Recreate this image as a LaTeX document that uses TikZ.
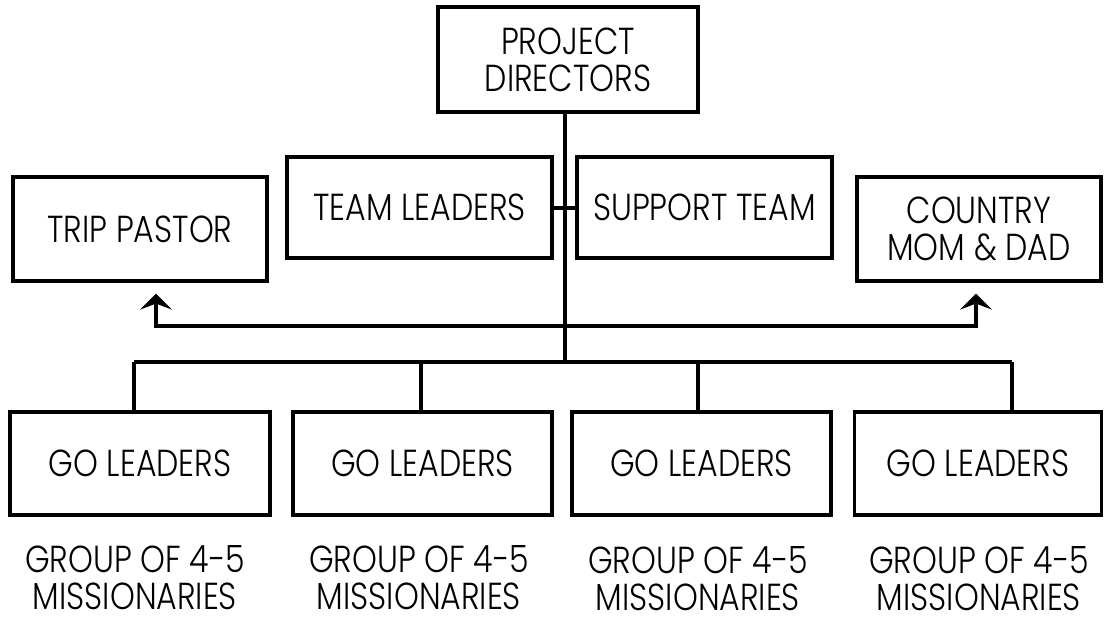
\documentclass[tikz,border=0pt]{standalone}
\usepackage{fontspec}
\setmainfont{Poppins}[FakeStretch=0.84, UprightFont=* Light]
\usetikzlibrary{positioning,arrows.meta}

\tikzset{
  box/.style={draw, line width=1.6pt, align=center, inner sep=0pt},
  note/.style={align=center, inner sep=0.5pt},
  link/.style={line width=2pt},
  up/.style={link, -{Stealth[length=8pt, width=16pt, inset=3pt]}, shorten >=5.5pt}
}

\begin{document}
\begin{tikzpicture}[x=0.5pt, y=-0.5pt, font=\fontsize{18.8}{18.5}\selectfont]

\useasboundingbox (0,0) rectangle (1104,622);

% top of the chart
\node[box, minimum width=130pt, minimum height=52.5pt] (directors) at (568,59.5) {PROJECT\\DIRECTORS};
\node[box, minimum width=132.5pt, minimum height=50.5pt] (team) at (419.5,207.5) {TEAM LEADERS};
\node[box, minimum width=127.5pt, minimum height=50.5pt] (support) at (704.5,207.5) {SUPPORT TEAM};
\node[box, minimum width=127pt, minimum height=52pt] (pastor) at (140,229) {TRIP PASTOR};
\node[box, minimum width=122pt, minimum height=52pt] (parents) at (979,229) {COUNTRY\\MOM \& DAD};

\coordinate (fork) at (565,326);
\coordinate (hub) at (565,362);

\draw[link] (directors.south -| hub) -- (hub);
\draw[link] (team.east) -- (support.west);
\draw[up] (fork) -| ([xshift=8pt]pastor.south);
\draw[up] (fork) -| ([xshift=-1.5pt]parents.south);

% go leaders
\foreach \i/\x/\w in {1/140/130, 2/422.5/129.5, 3/701.5/129.5, 4/978/123.5}
  \node[box, minimum width=\w pt, minimum height=51.5pt] (gl\i) at (\x,463.5) {GO LEADERS};

\foreach \i/\x/\y in {1/135/578, 2/419/578, 3/698/579, 4/979/579}
  \node[note] (grp\i) at (\x,\y) {GROUP OF 4-5\\MISSIONARIES};

\foreach \i/\x in {1/134, 2/421, 3/698, 4/1012}
  \coordinate (d\i) at (\x,362);

\draw[link] (d1) -- (d4);
\foreach \i in {1,...,4}
  \draw[link] (d\i) -- (d\i |- gl\i.north);

\end{tikzpicture}
\end{document}
